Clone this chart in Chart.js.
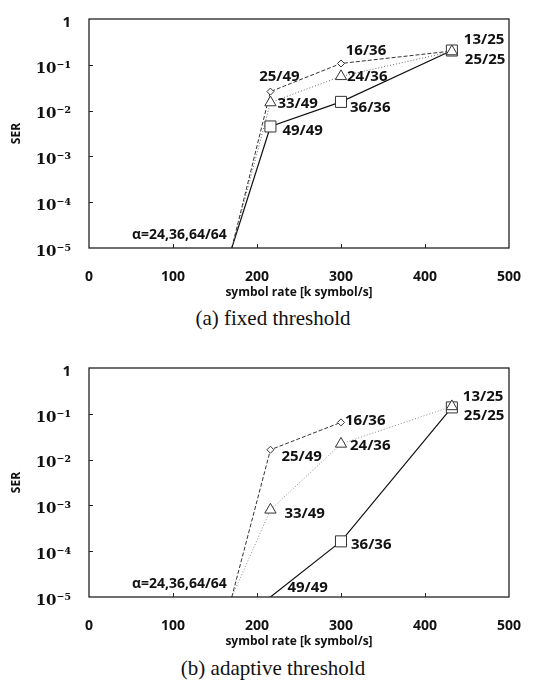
<!DOCTYPE html>
<html>
<head>
<meta charset="utf-8">
<script src="https://cdn.jsdelivr.net/npm/chart.js@4.4.1/dist/chart.umd.min.js"></script>
<style>
  html, body { margin: 0; padding: 0; background: #fff; }
  body { width: 534px; height: 684px; position: relative; overflow: hidden; }
  .panel { position: absolute; left: 0; width: 534px; height: 305px; }
  .caption { position: absolute; left: 0; width: 546px; text-align: center;
             font: 21px "Liberation Serif", "Times New Roman", serif; line-height: 24px; color: #111; }
</style>
</head>
<body>
<div class="panel" style="top:0"><canvas id="fixed" width="534" height="305"></canvas></div>
<div class="caption" style="top:306px">(a) fixed threshold</div>
<div class="panel" style="top:349px"><canvas id="adaptive" width="534" height="305"></canvas></div>
<div class="caption" style="top:656px">(b) adaptive threshold</div>
<script>
// symbol rates [k symbol/s]
const RATES = [170, 216, 300, 432];

// SER, fixed threshold
const FIXED_DIAMOND = [1e-5, 0.026, 0.107, 0.20];
const FIXED_TRIANGLE = [1e-5, 0.015, 0.056, 0.195];
const FIXED_SQUARE = [1e-5, 0.0045, 0.0155, 0.205];

// SER, adaptive threshold
const ADAPT_DIAMOND = [1e-5, 0.0164, 0.065, null];
const ADAPT_TRIANGLE = [1e-5, 0.0008, 0.022, 0.145];
const ADAPT_SQUARE = [null, 1e-5, 0.000164, 0.138];

// alpha labels next to the points
const FIXED_TEXT_DIAMOND = ["α=24,36,64/64", "25/49", "16/36", ""];
const FIXED_TEXT_TRIANGLE = ["", "33/49", "24/36", "13/25"];
const FIXED_TEXT_SQUARE = ["", "49/49", "36/36", "25/25"];
const ADAPT_TEXT_DIAMOND = ["α=24,36,64/64", "25/49", "16/36", ""];
const ADAPT_TEXT_TRIANGLE = ["", "33/49", "24/36", "13/25"];
const ADAPT_TEXT_SQUARE = ["", "49/49", "36/36", "25/25"];

const X_TICKS = [0, 100, 200, 300, 400, 500];
const Y_TICKS = [1e-5, 1e-4, 1e-3, 1e-2, 1e-1, 1];
const Y_TICK_LABELS = ["10⁻⁵", "10⁻⁴", "10⁻³", "10⁻²", "10⁻¹", "1"];

const YMIN = 1e-5;
const SANS = "'Open Sans', 'DejaVu Sans', sans-serif";

const toPoints = (ys) => RATES.map((x, i) => ({ x, y: ys[i] }));

const framePlugin = {
  id: "frame",
  afterDraw(chart) {
    const { ctx, chartArea: a, scales } = chart;
    ctx.save();
    ctx.strokeStyle = "#222";
    ctx.lineWidth = 1.3;
    ctx.strokeRect(a.left, a.top, a.right - a.left, a.bottom - a.top);
    ctx.lineWidth = 1;
    ctx.beginPath();
    scales.x.ticks.forEach((t) => {
      if (t.value <= 0 || t.value >= 500) return;
      const px = Math.round(scales.x.getPixelForValue(t.value)) + 0.5;
      ctx.moveTo(px, a.bottom);
      ctx.lineTo(px, a.bottom - 4);
    });
    scales.y.ticks.forEach((t) => {
      if (t.value <= YMIN || t.value >= 1) return;
      const py = Math.round(scales.y.getPixelForValue(t.value)) + 0.5;
      ctx.moveTo(a.left, py);
      ctx.lineTo(a.left + 4, py);
    });
    ctx.stroke();

    // point labels
    ctx.fillStyle = "#111";
    ctx.textBaseline = "middle";
    chart.data.datasets.forEach((ds, di) => {
      const meta = chart.getDatasetMeta(di);
      (ds.notes || []).forEach((txt, i) => {
        const off = ds.noteOffsets[i];
        if (!txt || !off) return;
        const el = meta.data[i];
        ctx.font = "bold " + (off[3] || 15) + "px " + SANS;
        ctx.textAlign = off[2];
        ctx.fillText(txt, el.x + off[0], el.y + off[1]);
      });
    });
    ctx.restore();
  },
};

function makeChart(id, sets, triColor) {
  const styles = {
    triangle: { pointStyle: "triangle", r: 6.5, dash: [1, 2], color: triColor, width: 1 },
    square: { pointStyle: "rect", r: 7.8, dash: [], color: "#111", width: 1.2 },
    diamond: { pointStyle: "rectRot", r: 3.5, dash: [4, 2], color: "#333", width: 1 },
  };
  return new Chart(document.getElementById(id), {
    type: "line",
    data: {
      datasets: sets.map((s) => {
        const st = styles[s.kind];
        return {
          data: toPoints(s.values),
          notes: s.notes,
          noteOffsets: s.offsets,
          borderColor: st.color,
          borderWidth: st.width,
          borderDash: st.dash,
          pointStyle: st.pointStyle,
          pointRadius: (c) => (c.raw && c.raw.y > YMIN ? st.r : 0),
          pointBorderColor: "#333",
          pointBorderWidth: 1,
          pointBackgroundColor: "#fff",
          tension: 0,
          spanGaps: false,
        };
      }),
    },
    options: {
      responsive: false,
      animation: false,
      layout: { padding: { top: 10, left: 0, right: 13, bottom: 0 } },
      plugins: { legend: { display: false }, tooltip: { enabled: false } },
      scales: {
        x: {
          type: "linear",
          min: 0,
          max: 500,
          afterBuildTicks: (s) => { s.ticks = X_TICKS.map((v) => ({ value: v })); },
          afterFit: (s) => { s.height = 57; },
          grid: { display: false },
          border: { display: false },
          ticks: { color: "#111", padding: 13, maxRotation: 0, font: { family: SANS, size: 14, weight: "bold" } },
          title: {
            display: true,
            text: "symbol rate [k symbol/s]",
            color: "#111",
            font: { family: SANS, size: 12, weight: "bold" },
            padding: { top: 4, bottom: 5 },
          },
        },
        y: {
          type: "logarithmic",
          min: YMIN,
          max: 1,
          afterBuildTicks: (s) => { s.ticks = Y_TICKS.map((v) => ({ value: v })); },
          afterFit: (s) => { s.width = 89; },
          grid: { display: false },
          border: { display: false },
          ticks: {
            color: "#111",
            padding: 10,
            labelOffset: 4,
            callback: (v) => Y_TICK_LABELS[Y_TICKS.indexOf(v)],
            font: (c) =>
              c.tick && c.tick.value === 1
                ? { family: SANS, size: 15, weight: "bold" }
                : { family: "'DejaVu Serif', serif", size: 15, weight: "bold" },
          },
          title: {
            display: true,
            text: "SER",
            color: "#111",
            font: { family: SANS, size: 12, weight: "bold" },
            padding: { top: 9, bottom: 0 },
          },
        },
      },
    },
    plugins: [framePlugin],
  });
}

makeChart("fixed", [
  { kind: "triangle", values: FIXED_TRIANGLE, notes: FIXED_TEXT_TRIANGLE,
    offsets: [null, [7, 1, "left"], [6, 0, "left"], [12, -12, "left"]] },
  { kind: "square", values: FIXED_SQUARE, notes: FIXED_TEXT_SQUARE,
    offsets: [null, [12, 4, "left"], [9, 6, "left"], [13, 9, "left"]] },
  { kind: "diamond", values: FIXED_DIAMOND, notes: FIXED_TEXT_DIAMOND,
    offsets: [[-5, -13, "right", 14], [9, -15, "center"], [25, -13, "center"], null] },
], "#666");

makeChart("adaptive", [
  { kind: "triangle", values: ADAPT_TRIANGLE, notes: ADAPT_TEXT_TRIANGLE,
    offsets: [null, [14, 4, "left"], [9, 2, "left"], [11, -10, "left"]] },
  { kind: "square", values: ADAPT_SQUARE, notes: ADAPT_TEXT_SQUARE,
    offsets: [null, [17, -9, "left"], [10, 3, "left"], [12, 8, "left"]] },
  { kind: "diamond", values: ADAPT_DIAMOND, notes: ADAPT_TEXT_DIAMOND,
    offsets: [[-5, -13, "right", 14], [11, 7, "left"], [4, -2, "left"], null] },
], "#888");
</script>
</body>
</html>
